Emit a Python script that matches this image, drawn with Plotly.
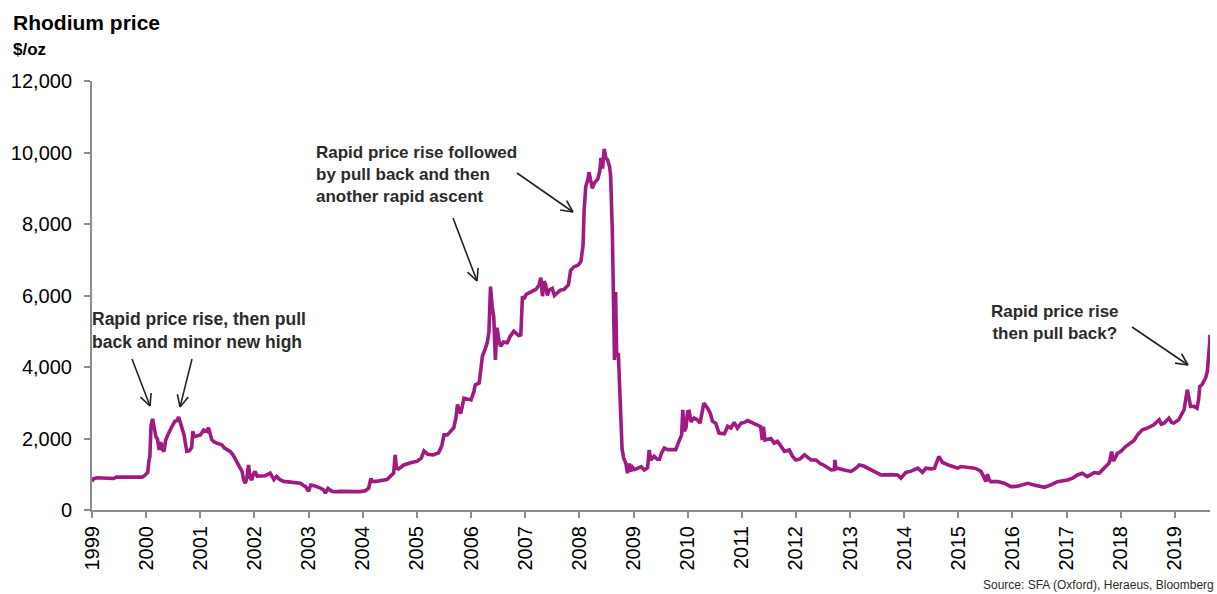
import math
import pandas as pd
import plotly.graph_objects as go

# ---------------- data ----------------
year_frac = [
    1999.00, 1999.03, 1999.10, 1999.25, 1999.35, 1999.40, 1999.45, 1999.60, 1999.80, 1999.93,
    1999.97, 2000.00, 2000.03, 2000.05, 2000.07, 2000.09, 2000.12, 2000.15, 2000.18, 2000.21,
    2000.24, 2000.27, 2000.30, 2000.33, 2000.36, 2000.40, 2000.44, 2000.48, 2000.53, 2000.57,
    2000.60, 2000.63, 2000.66, 2000.70, 2000.72, 2000.75, 2000.80, 2000.84, 2000.86, 2000.89,
    2000.95, 2001.00, 2001.06, 2001.12, 2001.15, 2001.18, 2001.21, 2001.26, 2001.32, 2001.40,
    2001.44, 2001.49, 2001.55, 2001.60, 2001.67, 2001.72, 2001.77, 2001.80, 2001.83, 2001.86,
    2001.89, 2001.92, 2001.95, 2001.98, 2002.01, 2002.05, 2002.10, 2002.20, 2002.29, 2002.33,
    2002.36, 2002.41, 2002.46, 2002.54, 2002.70, 2002.85, 2002.95, 2003.00, 2003.04, 2003.10,
    2003.22, 2003.28, 2003.31, 2003.36, 2003.42, 2003.46, 2003.60, 2003.80, 2003.95, 2004.05,
    2004.11, 2004.15, 2004.18, 2004.25, 2004.35, 2004.45, 2004.52, 2004.57, 2004.60, 2004.62,
    2004.66, 2004.70, 2004.76, 2004.90, 2005.00, 2005.08, 2005.13, 2005.20, 2005.30, 2005.40,
    2005.46, 2005.50, 2005.56, 2005.62, 2005.68, 2005.72, 2005.75, 2005.78, 2005.81, 2005.87,
    2005.95, 2006.00, 2006.05, 2006.08, 2006.15, 2006.18, 2006.21, 2006.26, 2006.30, 2006.33,
    2006.36, 2006.39, 2006.42, 2006.45, 2006.48, 2006.52, 2006.55, 2006.60, 2006.67, 2006.72,
    2006.79, 2006.88, 2006.92, 2006.95, 2006.98, 2007.02, 2007.10, 2007.20, 2007.26, 2007.29,
    2007.32, 2007.35, 2007.38, 2007.41, 2007.44, 2007.50, 2007.54, 2007.57, 2007.65, 2007.72,
    2007.80, 2007.84, 2007.90, 2007.98, 2008.03, 2008.07, 2008.09, 2008.12, 2008.16, 2008.18,
    2008.21, 2008.24, 2008.28, 2008.34, 2008.38, 2008.40, 2008.43, 2008.46, 2008.49, 2008.52,
    2008.56, 2008.58, 2008.61, 2008.63, 2008.65, 2008.67, 2008.69, 2008.72, 2008.75, 2008.79,
    2008.82, 2008.86, 2008.89, 2008.92, 2008.95, 2008.98, 2009.02, 2009.08, 2009.14, 2009.20,
    2009.26, 2009.29, 2009.32, 2009.38, 2009.44, 2009.48, 2009.52, 2009.57, 2009.63, 2009.72,
    2009.78, 2009.85, 2009.89, 2009.91, 2009.94, 2009.97, 2010.00, 2010.03, 2010.06, 2010.12,
    2010.18, 2010.23, 2010.30, 2010.37, 2010.42, 2010.46, 2010.52, 2010.58, 2010.68, 2010.74,
    2010.80, 2010.86, 2010.92, 2010.99, 2011.05, 2011.11, 2011.20, 2011.26, 2011.35, 2011.38,
    2011.40, 2011.43, 2011.50, 2011.54, 2011.60, 2011.66, 2011.72, 2011.79, 2011.88, 2011.94,
    2012.00, 2012.08, 2012.16, 2012.22, 2012.28, 2012.37, 2012.45, 2012.52, 2012.65, 2012.71,
    2012.72, 2012.74, 2012.77, 2012.89, 2013.02, 2013.10, 2013.17, 2013.25, 2013.39, 2013.50,
    2013.57, 2013.75, 2013.88, 2013.94, 2014.03, 2014.12, 2014.25, 2014.34, 2014.40, 2014.50,
    2014.56, 2014.64, 2014.71, 2014.83, 2014.99, 2015.05, 2015.20, 2015.30, 2015.38, 2015.42,
    2015.48, 2015.51, 2015.54, 2015.57, 2015.60, 2015.73, 2015.85, 2015.97, 2016.08, 2016.16,
    2016.28, 2016.40, 2016.59, 2016.71, 2016.83, 2017.02, 2017.12, 2017.20, 2017.29, 2017.38,
    2017.51, 2017.60, 2017.69, 2017.78, 2017.80, 2017.83, 2017.86, 2017.88, 2017.94, 2018.00,
    2018.09, 2018.18, 2018.25, 2018.31, 2018.40, 2018.49, 2018.55, 2018.61, 2018.71, 2018.75,
    2018.80, 2018.89, 2018.94, 2018.98, 2019.07, 2019.13, 2019.17, 2019.23, 2019.26, 2019.29,
    2019.35, 2019.41, 2019.44, 2019.46, 2019.50, 2019.54, 2019.57, 2019.60, 2019.63, 2019.645,
    2019.65,
]

price_usd_oz = [
    800, 880, 900, 890, 870, 880, 920, 920, 915, 920,
    960, 1000, 1050, 1350, 1500, 2350, 2550, 2300, 2050, 1980,
    1680, 1900, 1700, 1640, 1950, 2100, 2250, 2350, 2480, 2500,
    2600, 2450, 2250, 2100, 1900, 1640, 1660, 1750, 2200, 2050,
    2080, 2100, 2240, 2200, 2300, 2100, 1970, 1900, 1870, 1820,
    1740, 1690, 1640, 1550, 1350, 1200, 1080, 850, 750, 900,
    1260, 900, 840, 1000, 1080, 950, 950, 960, 1030, 900,
    850, 940, 860, 800, 770, 750, 640, 520, 700, 680,
    610, 560, 470, 600, 530, 510, 520, 510, 515, 540,
    610, 880, 800, 800, 830, 850, 960, 1030, 1540, 1200,
    1150, 1200, 1260, 1330, 1360, 1450, 1650, 1560, 1540, 1600,
    1800, 2100, 2100, 2200, 2300, 2570, 2950, 2800, 2700, 3130,
    3100, 3080, 3300, 3500, 3550, 4000, 4300, 4500, 4680, 4970,
    6250, 5700, 5400, 4200, 5100, 4700, 4580, 4700, 4680, 4850,
    5000, 4880, 4900, 5980, 5900, 6030, 6100, 6170, 6300, 6500,
    5980, 6400, 6300, 6000, 6150, 6200, 6000, 6050, 6150, 6170,
    6300, 6700, 6800, 6850, 6950, 7400, 8400, 9050, 9250, 9450,
    9200, 9000, 9150, 9250, 9500, 9850, 9550, 10100, 9850, 9800,
    9600, 9300, 7760, 6200, 4200, 6100, 4300, 4400, 3300, 1700,
    1450, 1300, 1030, 1300, 1080, 1200, 1130, 1180, 1210, 1120,
    1180, 1680, 1400, 1500, 1420, 1420, 1600, 1730, 1690, 1690,
    1690, 1960, 2100, 2800, 2200, 2300, 2750, 2760, 2470, 2570,
    2520, 2430, 2990, 2850, 2700, 2480, 2430, 2150, 2130, 2340,
    2290, 2450, 2290, 2430, 2450, 2500, 2430, 2380, 2330, 1960,
    2330, 1960, 1980, 2000, 1870, 1920, 1800, 1640, 1680, 1500,
    1400, 1430, 1540, 1480, 1400, 1400, 1300, 1250, 1120, 1130,
    1400, 1150, 1170, 1120, 1080, 1160, 1260, 1230, 1120, 1030,
    980, 990, 980, 890, 1050, 1080, 1170, 1050, 1170, 1150,
    1170, 1495, 1330, 1250, 1170, 1215, 1200, 1170, 1120, 1075,
    900, 794, 1000, 850, 794, 794, 748, 654, 660, 701,
    748, 701, 636, 701, 794, 841, 900, 981, 1028, 934,
    1047, 1028, 1168, 1309, 1400, 1636, 1400, 1402, 1589, 1636,
    1776, 1869, 1950, 2103, 2243, 2290, 2330, 2383, 2523, 2400,
    2430, 2570, 2450, 2430, 2523, 2700, 2804, 3365, 3100, 2897,
    2900, 2850, 3100, 3458, 3500, 3598, 3700, 3878, 4300, 4700,
    4900,
]

y_tick_values = [0, 2000, 4000, 6000, 8000, 10000, 12000]
y_tick_labels = ["0", "2,000", "4,000", "6,000", "8,000", "10,000", "12,000"]

title_text = "Rhodium price"
unit_text = "$/oz"
note_2000 = "Rapid price rise, then pull<br>back and minor new high"
note_2008 = "Rapid price rise followed<br>by pull back and then<br>another rapid ascent"
note_2019 = "Rapid price rise<br>then pull back?"
source_text = "Source: SFA (Oxford), Heraeus, Bloomberg"

# ---------------- helpers ----------------
def frac_to_date(f):
    y = int(math.floor(f))
    start = pd.Timestamp(year=y, month=1, day=1)
    end = pd.Timestamp(year=y + 1, month=1, day=1)
    return start + (end - start) * (f - y)

dates = [frac_to_date(f) for f in year_frac]

W, H = 1217, 594
L, R, T, B = 92, 7, 81, 84
PW, PH = W - L - R, H - T - B

def px(x):
    return (x - L) / PW

def py(y):
    return (H - B - y) / PH

FONT = "Liberation Sans, Arial, Helvetica, sans-serif"
LINE_COLOR = "#A01A82"
AXIS_COLOR = "#8C8C8C"
TEXT_DARK = "#2B2B2B"

fig = go.Figure()
fig.add_trace(go.Scatter(
    x=dates, y=price_usd_oz, mode="lines",
    line=dict(color=LINE_COLOR, width=3.6),
    hoverinfo="skip", showlegend=False,
))

fig.update_layout(
    width=W, height=H, autosize=False,
    margin=dict(l=L, r=R, t=T, b=B, pad=0),
    paper_bgcolor="white", plot_bgcolor="white",
    font=dict(family=FONT, color="black"),
    showlegend=False,
)

fig.update_xaxes(
    type="date",
    range=[pd.Timestamp("1999-01-01"), pd.Timestamp("2019-08-26")],
    tick0="1999-01-01", dtick="M12", tickformat="%Y",
    tickangle=-90, ticks="outside", ticklen=6, tickwidth=1.5, tickcolor=AXIS_COLOR,
    showline=True, linecolor=AXIS_COLOR, linewidth=2,
    showgrid=False, zeroline=False,
    tickfont=dict(size=20, color="black", family=FONT),
)
fig.update_yaxes(
    range=[0, 12000],
    tickvals=y_tick_values, ticktext=y_tick_labels,
    ticks="outside", ticklen=6, tickwidth=1.5, tickcolor=AXIS_COLOR,
    showline=True, linecolor=AXIS_COLOR, linewidth=2,
    showgrid=False, zeroline=False,
    tickfont=dict(size=20, color="black", family=FONT),
    ticklabelstandoff=8,
)

annotations = [
    dict(text="<b>" + title_text + "</b>", x=px(11), y=py(23), xanchor="left", yanchor="middle",
         font=dict(size=21, color="black", family=FONT)),
    dict(text="<b>" + unit_text + "</b>", x=px(11), y=py(50), xanchor="left", yanchor="middle",
         font=dict(size=17, color="black", family=FONT)),
    dict(text="<b>" + note_2000.replace("<br>", "</b><br><b>") + "</b>", x=px(90), y=py(330),
         xanchor="left", yanchor="middle", align="left",
         font=dict(size=17.5, color=TEXT_DARK, family=FONT)),
    dict(text="<b>" + note_2008.replace("<br>", "</b><br><b>") + "</b>", x=px(314), y=py(174),
         xanchor="left", yanchor="middle", align="left",
         font=dict(size=17, color=TEXT_DARK, family=FONT)),
    dict(text="<b>" + note_2019.replace("<br>", "</b><br><b>") + "</b>", x=px(1055), y=py(322),
         xanchor="center", yanchor="middle", align="center",
         font=dict(size=17, color=TEXT_DARK, family=FONT)),
    dict(text=source_text, x=px(1216), y=py(585), xanchor="right", yanchor="middle",
         font=dict(size=12, color=TEXT_DARK, family=FONT)),
]
for a in annotations:
    a.update(xref="paper", yref="paper", showarrow=False)
fig.update_layout(annotations=annotations)

# arrows (tail -> head) in pixel space, drawn as open "V" arrows
arrows = [
    ((132, 359), (150, 406)),
    ((192, 359), (180, 407)),
    ((453, 218), (477, 281)),
    ((517, 173), (573, 212)),
    ((1132, 327), (1188, 365)),
]
shapes = []
def seg(x0, y0, x1, y1):
    shapes.append(dict(type="line", xref="paper", yref="paper",
                       x0=px(x0), y0=py(y0), x1=px(x1), y1=py(y1),
                       line=dict(color="#222222", width=1.6)))
for (tx, ty), (hx, hy) in arrows:
    seg(tx, ty, hx, hy)
    ang = math.atan2(ty - hy, tx - hx)
    for d in (0.45, -0.45):
        seg(hx, hy, hx + 13 * math.cos(ang + d), hy + 13 * math.sin(ang + d))
fig.update_layout(shapes=shapes)

fig.write_html("out.html")
